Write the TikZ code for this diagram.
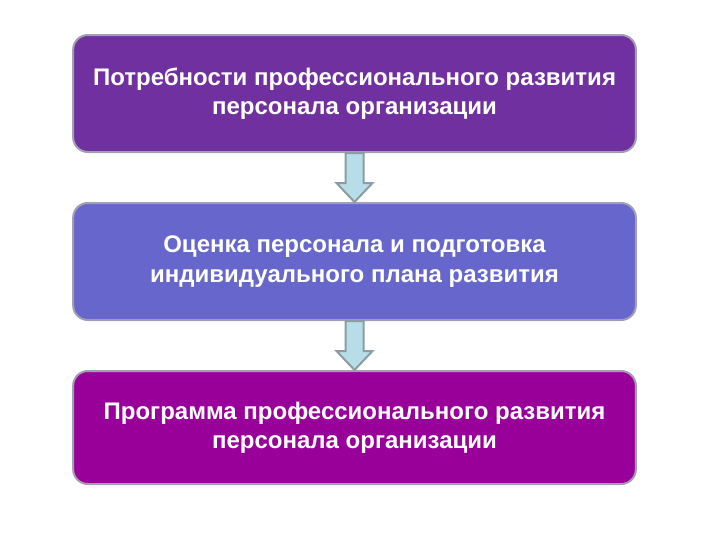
\documentclass[tikz,border=0pt]{standalone}
\usepackage{fontspec}
\setmainfont{Liberation Sans}
\usetikzlibrary{calc}
\definecolor{boxone}{RGB}{112,48,160}
\definecolor{boxtwo}{RGB}{102,102,204}
\definecolor{boxthree}{RGB}{153,0,153}
\definecolor{edgegrey}{RGB}{160,160,176}
\definecolor{arrowfill}{RGB}{183,222,232}
\definecolor{arrowedge}{RGB}{140,156,160}
\tikzset{
  stagebox/.style={draw=edgegrey, line width=1.5pt, rounded corners=11pt,
    minimum width=422pt, minimum height=87.75pt, text=white, align=center,
    font=\fontsize{18}{22}\selectfont\bfseries},
  blockarrow/.style={fill=arrowfill, draw=arrowedge, line width=1.5pt}
}
\begin{document}
\begin{tikzpicture}[x=0.75pt,y=-0.75pt]
  \useasboundingbox (0,0) rectangle (720,540);
  % Stages
  \node[stagebox, fill=boxone] (needs) at (354.5,93.5)
    {Потребности профессионального развития\\персонала организации};
  \node[stagebox, fill=boxtwo] (assess) at (354.5,261.5)
    {Оценка персонала и подготовка\\индивидуального плана развития};
  \node[stagebox, fill=boxthree, minimum height=84.75pt] (program) at (354.5,427.5)
    {Программа профессионального развития\\персонала организации};

  % Block arrows
  \foreach \from/\to in {needs/assess, assess/program} {
    \draw[blockarrow] ($(\from.south)+(-9,0)$) -- ($(\from.south)+(9,0)$)
      -- ($(\to.north)+(9,-19)$) -- ($(\to.north)+(18,-19)$)
      -- (\to.north) -- ($(\to.north)+(-18,-19)$)
      -- ($(\to.north)+(-9,-19)$) -- cycle;
  }
\end{tikzpicture}
\end{document}
